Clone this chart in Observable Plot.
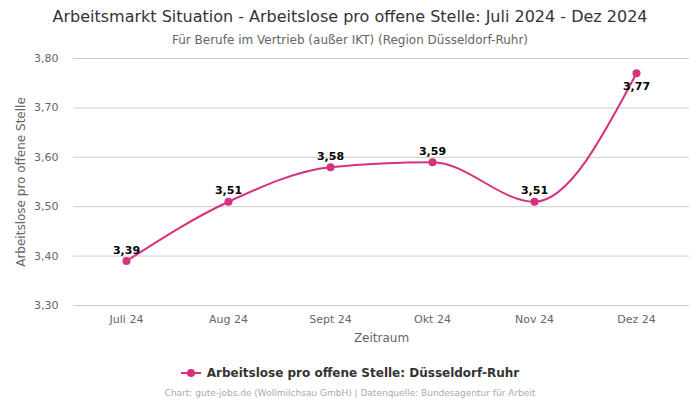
<!DOCTYPE html>
<html><head><meta charset="utf-8">
<script src="https://cdn.jsdelivr.net/npm/d3@7"></script>
<script src="https://cdn.jsdelivr.net/npm/@observablehq/plot@0.6"></script>
<style>
body{margin:0;background:#fff;font-family:"DejaVu Sans",sans-serif;width:700px;height:400px;overflow:hidden}
#title{height:34px;line-height:34px;text-align:center;font-size:16px;color:#333;}
#sub{height:14px;line-height:12px;text-align:center;font-size:12px;color:#666;}
#legend{height:30px;display:flex;align-items:center;justify-content:center;font-size:12px;font-weight:bold;color:#333;margin-top:1px}
#caption{text-align:center;font-size:9px;color:#aaa;line-height:10px}
svg{display:block}
</style></head><body>
<div id="title">Arbeitsmarkt Situation - Arbeitslose pro offene Stelle: Juli 2024 - Dez 2024</div>
<div id="sub">Für Berufe im Vertrieb (außer IKT) (Region Düsseldorf-Ruhr)</div>
<div id="chart"></div>
<div id="legend"><svg width="20" height="10" style="margin-right:6px"><line x1="0" y1="5" x2="20" y2="5" stroke="#d6307f" stroke-width="2"/><circle cx="10" cy="5" r="4" fill="#d6307f"/></svg>Arbeitslose pro offene Stelle: Düsseldorf-Ruhr</div>
<div id="caption">Chart: gute-jobs.de (Wollmilchsau GmbH) | Datenquelle: Bundesagentur für Arbeit</div>
<script>
const months = ["Juli 24","Aug 24","Sept 24","Okt 24","Nov 24","Dez 24"];
const values = [3.39, 3.51, 3.58, 3.59, 3.51, 3.77];
const yTicks = [3.30, 3.40, 3.50, 3.60, 3.70, 3.80];
const xTitle = "Zeitraum";
const yTitle = "Arbeitslose pro offene Stelle";
const color = "#d6307f";
const data = months.map((m,i)=>({m, v:values[i], last: i===months.length-1}));
const fmt = v => v.toFixed(2).replace(".", ",");
const chart = Plot.plot({
  width:700, height:309,
  marginTop:10, marginBottom:52, marginLeft:73, marginRight:11,
  style:{fontFamily:"DejaVu Sans, sans-serif", fontSize:"11px", color:"#666"},
  x:{type:"point", domain:months, padding:0.5},
  y:{domain:[3.30,3.80]},
  marks:[
    Plot.gridY(yTicks,{stroke:"#ccc", strokeOpacity:1}),
    Plot.axisX({tickSize:0, tickPadding:10, fontSize:11, label:null, fill:"#666"}),
    Plot.axisY({ticks:yTicks, tickFormat:fmt, tickSize:0, tickPadding:15, label:null, fill:"#666"}),
    Plot.text([xTitle],{frameAnchor:"bottom", dy:36, text:d=>d, fontSize:12, fill:"#666"}),
    Plot.text([yTitle],{frameAnchor:"left", textAnchor:"middle", dx:-52, rotate:-90, text:d=>d, fontSize:12, fill:"#666"}),
    Plot.line(data,{x:"m", y:"v", stroke:color, strokeWidth:2, curve:"monotone-x"}),
    Plot.dot(data,{x:"m", y:"v", fill:color, r:4}),
    Plot.text(data.filter(d=>!d.last),{x:"m", y:"v", text:d=>fmt(d.v), dy:-11, fontWeight:"bold", fill:"#000", fontSize:11}),
    Plot.text(data.filter(d=>d.last),{x:"m", y:"v", text:d=>fmt(d.v), dy:13, fontWeight:"bold", fill:"#000", fontSize:11})
  ]
});
document.getElementById("chart").append(chart);
</script>
</body></html>
